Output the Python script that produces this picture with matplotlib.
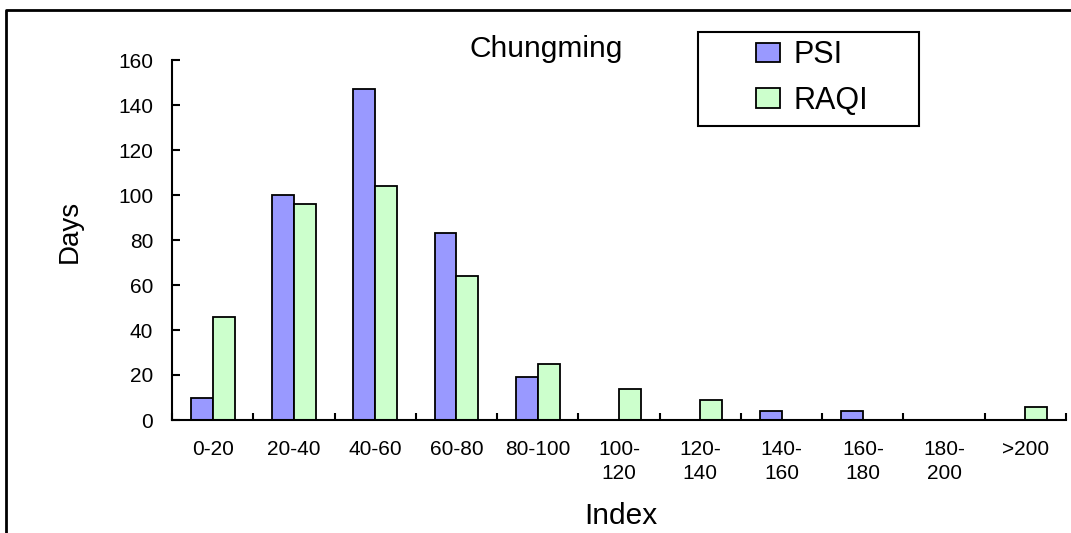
import numpy as np
import matplotlib
matplotlib.use('Agg')
import matplotlib.pyplot as plt
from matplotlib.patches import Rectangle
from matplotlib.lines import Line2D

plt.rcParams['font.family'] = ['Liberation Sans', 'DejaVu Sans']

# data
categories = ['0-20', '20-40', '40-60', '60-80', '80-100', '100-\n120',
              '120-\n140', '140-\n160', '160-\n180', '180-\n200', '>200']
psi = [10, 100, 147, 83, 19, 0, 0, 4, 4, 0, 0]
raqi = [46, 96, 104, 64, 25, 14, 9, 0, 0, 0, 6]

W, H = 1071, 533
fig = plt.figure(figsize=(W / 100, H / 100), dpi=100)
ax = fig.add_axes((172 / W, 1 - 420 / H, 894 / W, 360 / H))

xlocs = np.arange(len(categories))
bar_width = 0.27
ax.bar(xlocs - bar_width / 2, psi, bar_width, color='#9999FF',
       edgecolor='black', linewidth=1.3, label='PSI')
ax.bar(xlocs + bar_width / 2, raqi, bar_width, color='#CCFFCC',
       edgecolor='black', linewidth=1.3, label='RAQI')

ax.set_xlim(-0.5, len(categories) - 0.5)
ax.set_ylim(0, 160)
ax.set_yticks(range(0, 161, 20))
ax.set_xticks(xlocs)
ax.set_xticklabels(categories, linespacing=1.3)
ax.set_xticks(np.arange(-0.5, len(categories)), minor=True)

for side in ('top', 'right'):
    ax.spines[side].set_visible(False)
for side in ('left', 'bottom'):
    ax.spines[side].set_linewidth(1.5)

ax.tick_params(axis='x', which='major', length=0, pad=14.5, labelsize=15)
ax.tick_params(axis='x', which='minor', direction='in', length=5, width=1.5)
ax.tick_params(axis='y', direction='in', length=6, width=1.5, pad=13.5,
               labelsize=15)

# titles and axis labels placed in pixel positions
fig.text(546 / W, 1 - 57 / H, 'Chungming', ha='center', va='baseline',
         fontsize=21.5)
fig.text(621 / W, 1 - 524 / H, 'Index', ha='center', va='baseline',
         fontsize=21.5)
fig.text(70 / W, 1 - 231 / H, 'Days', ha='center', va='center',
         rotation=90, fontsize=20)

# legend with separate frame
leg = fig.legend(loc='center', bbox_to_anchor=(812 / W, 1 - 78 / H),
                 frameon=False, fontsize=22, handlelength=0.8,
                 handleheight=0.6, handletextpad=0.45, labelspacing=0.5)
for h in leg.legend_handles:
    h.set_linewidth(1.3)
fig.add_artist(Rectangle((698 / W, 1 - 126 / H), 221 / W, 94 / H,
                         transform=fig.transFigure, fill=False,
                         edgecolor='black', linewidth=1.5))

# outer chart border (top and left only, rest cut off)
fig.add_artist(Line2D([6 / W, 6 / W, 1.01], [-0.01, 1 - 10 / H, 1 - 10 / H],
                      transform=fig.transFigure, color='black', linewidth=2))

fig.savefig('out.png', dpi=100)
plt.close()
